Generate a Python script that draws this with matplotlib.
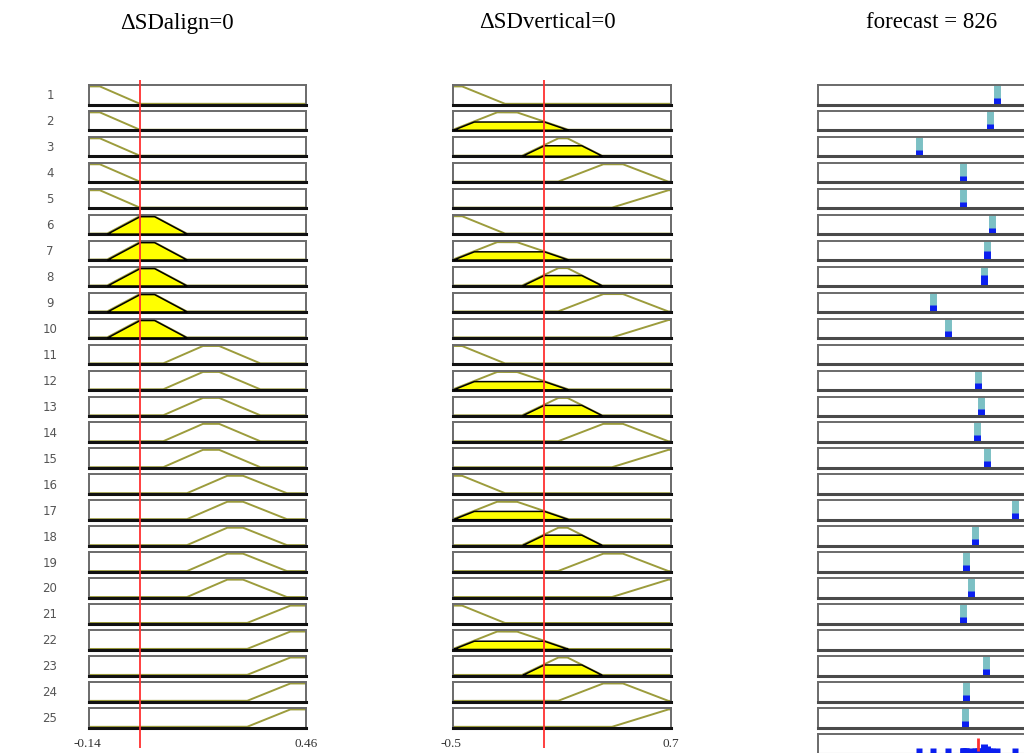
import matplotlib
matplotlib.use('Agg')
import matplotlib.pyplot as plt
import numpy as np

W, H = 1024, 753

# input 1
in1_name = 'ΔSDalign'
in1_range = (-0.14, 0.46)
in1_value = 0.0
in1_mfs = [
    [-0.2, -0.14, -0.11, 0.0],
    [-0.09, 0.0, 0.04, 0.13],
    [0.065, 0.175, 0.22, 0.333],
    [0.131, 0.242, 0.286, 0.407],
    [0.297, 0.416, 0.46, 0.52],
]

# input 2
in2_name = 'ΔSDvertical'
in2_range = (-0.5, 0.7)
in2_value = 0.0
in2_mfs = [
    [-0.6, -0.5, -0.45, -0.214],
    [-0.5, -0.258, -0.148, 0.133],
    [-0.12, 0.08, 0.13, 0.32],
    [0.078, 0.326, 0.436, 0.684],
    [0.375, 0.684, 0.7, 0.8],
]

# output (constant per rule)
out_name = 'forecast'
out_range = (0, 1125)
forecast = 826
out_consts = [924, 888, 521, 748, 748,
              898, 872, 857, 593, 671,
              1180, 826, 841, 820, 872,
              1190, 1017, 810, 764, 790,
              748, 1170, 867, 764, 759]

n_rules = len(out_consts)

OLIVE = '#9c9c3c'
TEAL = '#7cc0c4'
BLUE = '#0a1ef0'
RED = '#ff3030'


def trap(x, p):
    a, b, c, d = p
    left = (np.asarray(x, dtype=float) - a) / (b - a)
    right = (d - np.asarray(x, dtype=float)) / (d - c)
    return np.clip(np.minimum(np.minimum(left, 1.0), right), 0.0, 1.0)


def px_axes(fig, x0, y0, x1, y1, **kw):
    # pixel box (top-left origin) -> figure axes
    return fig.add_axes([x0 / W, 1 - y1 / H, (x1 - x0) / W, (y1 - y0) / H], **kw)


def style_box(ax, bottom_color='#111111'):
    ax.set_xticks([])
    ax.set_yticks([])
    for s in ['top', 'left', 'right']:
        ax.spines[s].set_color('#6a6a6a')
        ax.spines[s].set_linewidth(1.4)
    ax.spines['bottom'].set_color(bottom_color)
    ax.spines['bottom'].set_linewidth(2.2)


def draw_input(ax, rng, p, value):
    x = np.linspace(rng[0], rng[1], 500)
    y = trap(x, p)
    mu = float(trap(value, p))
    ax.plot(x, y, color=OLIVE, lw=1.4, zorder=2)
    if mu > 0:
        ax.fill_between(x, 0, np.minimum(y, mu), where=y > 0,
                        facecolor='#ffff00', edgecolor='black', lw=1.1, zorder=3)
    ax.set_xlim(rng)
    ax.set_ylim(-0.04, 1.08)
    return mu


fig = plt.figure(figsize=(W / 100, H / 100), dpi=100)

cols = [(89, 306), (453, 671), (818, 1036)]
row_top0 = 85
row_step = 25.96
row_h = 19.5

weights = []
for i in range(n_rules):
    top = row_top0 + i * row_step
    bot = top + row_h
    ax1 = px_axes(fig, cols[0][0], top, cols[0][1], bot)
    mu1 = draw_input(ax1, in1_range, in1_mfs[i // 5], in1_value)
    style_box(ax1)
    ax2 = px_axes(fig, cols[1][0], top, cols[1][1], bot)
    mu2 = draw_input(ax2, in2_range, in2_mfs[i % 5], in2_value)
    style_box(ax2)
    w = min(mu1, mu2)
    weights.append(w)

    ax3 = px_axes(fig, cols[2][0], top, cols[2][1], bot)
    c = out_consts[i]
    ax3.vlines(c, 0, 1.12, color=TEAL, lw=5, clip_on=False)
    ax3.vlines(c, 0, max(w, 0.35), color=BLUE, lw=5)
    ax3.set_xlim(out_range)
    ax3.set_ylim(-0.04, 1.08)
    style_box(ax3, bottom_color='#4a4a4a')

    fig.text(50 / W, 1 - (top + row_h / 2 + 1) / H, str(i + 1), ha='center', va='center',
             fontsize=8.5, color='#555555', family='DejaVu Sans')

# aggregated output row
top = row_top0 + n_rules * row_step
axa = px_axes(fig, cols[2][0], top, cols[2][1], top + row_h)
for c, w in zip(out_consts, weights):
    axa.plot(c, 0.12, 's', color=BLUE, ms=4, mec='none')
    if w > 0:
        axa.vlines(c, 0.1, w * 0.8, color=BLUE, lw=5)
axa.vlines(forecast, 0.12, 0.85, color=RED, lw=2)
axa.set_xlim(out_range)
axa.set_ylim(-0.04, 1.08)
style_box(axa, bottom_color='#4a4a4a')

# red input lines across each input column
for (x0, x1), rng, val in [(cols[0], in1_range, in1_value), (cols[1], in2_range, in2_value)]:
    ov = px_axes(fig, x0, 80, x1, 748)
    ov.set_xlim(rng)
    ov.set_ylim(0, 1)
    ov.axvline(val, color=RED, lw=1.3)
    ov.patch.set_alpha(0)
    ov.axis('off')
    fig.text(x0 / W - 0.002, 1 - 744 / H, f'{rng[0]:g}', ha='center', va='center',
             fontsize=9.5, color='#333333', family='Liberation Serif')
    fig.text(x1 / W, 1 - 744 / H, f'{rng[1]:g}', ha='center', va='center',
             fontsize=9.5, color='#333333', family='Liberation Serif')

# titles
fig.text(177 / W, 1 - 23 / H, f'{in1_name}={in1_value:g}', ha='center', va='center',
         fontsize=16.5, family='Liberation Serif')
fig.text(547 / W, 1 - 23 / H, f'{in2_name}={in2_value:g}', ha='center', va='center',
         fontsize=16.5, family='Liberation Serif')
fig.text(932 / W, 1 - 23 / H, f'{out_name} = {forecast:g}', ha='center', va='center',
         fontsize=16.5, family='Liberation Serif')

fig.savefig('out.png', dpi=100)
